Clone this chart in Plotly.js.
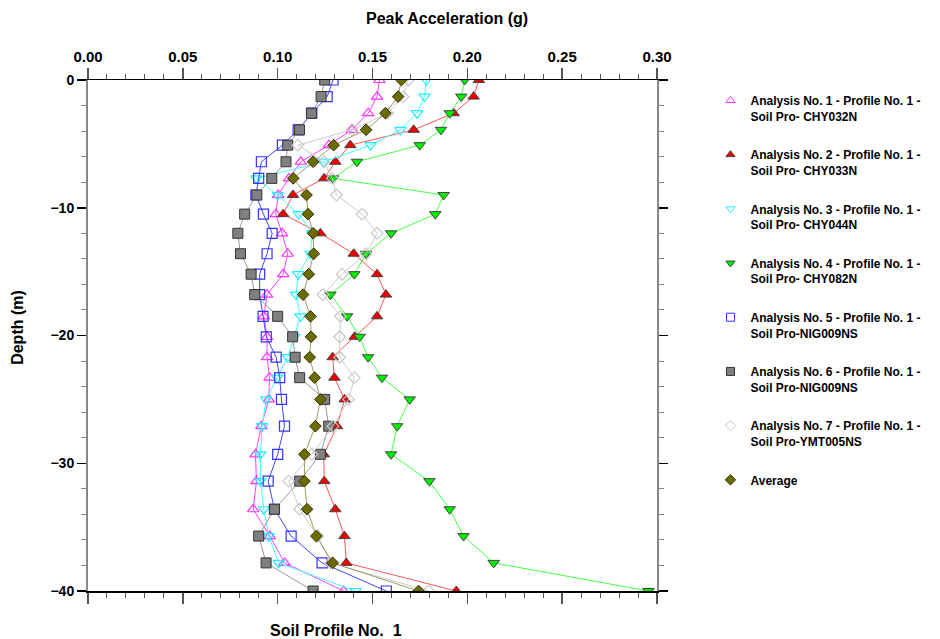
<!DOCTYPE html>
<html>
<head>
<meta charset="utf-8">
<script src="https://cdn.plot.ly/plotly-3.0.1.min.js"></script>
<style>html,body{margin:0;padding:0;background:#fff;}#chart{width:940px;height:639px;}</style>
</head>
<body>
<div id="chart"></div>
<script>
// Depth of each output point (m)
const depth = [0, -1.3, -2.6, -3.9, -5.1, -6.4, -7.7, -9.0, -10.5, -12.0, -13.6, -15.2, -16.8, -18.5, -20.1, -21.7, -23.3, -25.0, -27.1, -29.3, -31.4, -33.6, -35.7, -37.8, -40];

// Peak acceleration (g) per analysis
const a1 = [0.1536, 0.1524, 0.1477, 0.1392, 0.127, 0.1122, 0.106, 0.1002, 0.099, 0.1023, 0.1053, 0.1029, 0.0944, 0.0927, 0.0944, 0.0944, 0.0957, 0.0953, 0.0914, 0.0883, 0.0888, 0.0871, 0.0958, 0.1037, 0.1348];
const a2 = [0.2061, 0.2033, 0.1928, 0.1717, 0.1383, 0.1304, 0.1245, 0.1081, 0.1029, 0.1225, 0.1401, 0.1524, 0.1571, 0.1524, 0.1406, 0.1290, 0.1299, 0.1353, 0.1313, 0.1243, 0.1246, 0.1304, 0.1352, 0.1362, 0.1942];
const a3 = [0.1784, 0.1775, 0.1735, 0.1647, 0.1490, 0.1243, 0.0888, 0.1000, 0.1111, 0.1182, 0.1173, 0.1108, 0.1097, 0.1120, 0.1087, 0.1053, 0.0997, 0.0939, 0.0918, 0.0909, 0.0909, 0.0927, 0.0953, 0.1006, 0.1410];
const a4 = [0.1986, 0.1968, 0.1907, 0.1861, 0.1749, 0.1418, 0.1292, 0.1875, 0.1831, 0.1598, 0.1466, 0.1404, 0.1278, 0.1366, 0.1432, 0.1477, 0.1550, 0.1696, 0.1630, 0.1598, 0.1800, 0.1907, 0.1980, 0.2139, 0.2955];
const a5 = [0.1292, 0.1261, 0.1180, 0.1108, 0.1025, 0.0914, 0.0900, 0.0885, 0.0925, 0.0971, 0.0944, 0.0905, 0.0905, 0.0923, 0.0940, 0.0992, 0.1011, 0.1020, 0.1036, 0.1000, 0.0950, 0.0983, 0.1071, 0.1234, 0.1573];
const a6 = [0.1248, 0.1229, 0.1178, 0.1115, 0.1053, 0.1044, 0.0969, 0.0890, 0.0826, 0.0790, 0.0804, 0.0860, 0.0879, 0.1000, 0.1079, 0.1092, 0.1116, 0.1248, 0.1269, 0.1225, 0.1116, 0.0983, 0.0900, 0.0939, 0.1187];
const a7 = [0.1689, 0.1661, 0.1580, 0.1392, 0.1106, 0.1243, 0.1288, 0.1310, 0.1445, 0.1524, 0.1466, 0.1340, 0.1239, 0.1331, 0.1327, 0.1327, 0.1404, 0.1374, 0.1292, 0.1180, 0.1058, 0.1116, 0.1211, 0.1278, 0.1796];
const avg = [0.1652, 0.1635, 0.1568, 0.1466, 0.1295, 0.1187, 0.1082, 0.1152, 0.1160, 0.1187, 0.1190, 0.1164, 0.1134, 0.1173, 0.1176, 0.1169, 0.1195, 0.1225, 0.1199, 0.1141, 0.1141, 0.1155, 0.1204, 0.1290, 0.1743];

const names = [
  "Analysis No. 1 - Profile No. 1 -<br>Soil Pro- CHY032N",
  "Analysis No. 2 - Profile No. 1 -<br>Soil Pro- CHY033N",
  "Analysis No. 3 - Profile No. 1 -<br>Soil Pro- CHY044N",
  "Analysis No. 4 - Profile No. 1 -<br>Soil Pro- CHY082N",
  "Analysis No. 5 - Profile No. 1 -<br>Soil Pro-NIG009NS",
  "Analysis No. 6 - Profile No. 1 -<br>Soil Pro-NIG009NS",
  "Analysis No. 7 - Profile No. 1 -<br>Soil Pro-YMT005NS",
  "Average"
];
const seriesX = [a1, a2, a3, a4, a5, a6, a7, avg];

const styles = [
  {line: '#ff44ff', symbol: 'triangle-up-open', mcolor: '#ff33ff', mline: '#ff33ff', size: 10},
  {line: '#ff5555', symbol: 'triangle-up', mcolor: '#ee0000', mline: '#444444', size: 10},
  {line: '#44ffff', symbol: 'triangle-down-open', mcolor: '#22eeff', mline: '#22eeff', size: 10},
  {line: '#44ff44', symbol: 'triangle-down', mcolor: '#00ee00', mline: '#444444', size: 10},
  {line: '#4444ff', symbol: 'square-open', mcolor: '#3333ff', mline: '#3333ff', size: 10},
  {line: '#999999', symbol: 'square', mcolor: '#808080', mline: '#333333', size: 10},
  {line: '#cccccc', symbol: 'diamond-open', mcolor: '#c8c8c8', mline: '#c8c8c8', size: 9},
  {line: '#a09a60', symbol: 'diamond', mcolor: '#6b6b00', mline: '#333300', size: 9}
];

const traces = [];
seriesX.forEach((xs, i) => {
  const s = styles[i];
  traces.push({
    type: 'scatter', mode: 'lines+markers', x: xs, y: depth, showlegend: false,
    line: {color: s.line, width: 1},
    marker: {symbol: s.symbol, size: s.size, color: s.mcolor, line: {color: s.mline, width: s.symbol.endsWith('open') ? 1.2 : 1}},
    hoverinfo: 'skip'
  });
});
// legend entries (marker only)
seriesX.forEach((xs, i) => {
  const s = styles[i];
  traces.push({
    type: 'scatter', mode: 'markers', x: [null], y: [null], name: names[i],
    xaxis: 'x2', yaxis: 'y2', legendgroup: 'g' + i,
    marker: {symbol: s.symbol, size: 8, color: s.mcolor, line: {color: s.mline, width: 1}}
  });
});

const font = {family: 'Liberation Sans, Arial, sans-serif', color: '#000', size: 14, weight: 'bold'};

const layout = {
  width: 940, height: 639,
  margin: {l: 88, r: 283, t: 80, b: 48, pad: 0},
  paper_bgcolor: '#fff', plot_bgcolor: '#fff',
  font: font,
  showlegend: true,
  xaxis: {
    side: 'top', range: [0, 0.3], dtick: 0.05, tick0: 0, tickformat: '.2f',
    ticks: 'outside', ticklen: 11, tickwidth: 1.5, tickcolor: '#555',
    minor: {dtick: 0.01, ticks: 'outside', ticklen: 5, tickwidth: 1, tickcolor: '#555'},
    showline: true, linecolor: '#000', linewidth: 1.5, mirror: 'ticks',
    showgrid: false, zeroline: false, fixedrange: true,
    tickfont: {family: font.family, size: 15, color: '#000', weight: 'bold'}
  },
  yaxis: {
    range: [-40, 0], dtick: 10, tick0: 0,
    ticks: 'outside', ticklen: 9, tickwidth: 1.5, tickcolor: '#000',
    minor: {dtick: 2, ticks: 'outside', ticklen: 5, tickwidth: 1, tickcolor: '#888'},
    showline: true, linecolor: '#888', linewidth: 2, mirror: 'ticks',
    showgrid: false, zeroline: false, fixedrange: true,
    tickfont: {family: font.family, size: 14, color: '#000', weight: 'bold'}
  },
  xaxis2: {overlaying: 'x', range: [0, 0.3], visible: false, fixedrange: true},
  yaxis2: {overlaying: 'y', range: [-40, 0], visible: false, fixedrange: true},
  legend: {
    x: 1.094, xanchor: 'left', y: 0.988, yanchor: 'top',
    valign: 'top', tracegroupgap: 20, bgcolor: 'rgba(0,0,0,0)',
    font: {family: font.family, size: 12, color: '#000', weight: 'bold'}
  },
  annotations: [
    {text: 'Peak Acceleration (g)', xref: 'paper', yref: 'paper', x: 0.631, y: 1.121, showarrow: false,
     xanchor: 'center', yanchor: 'middle', font: {family: font.family, size: 16, color: '#000', weight: 'bold'}},
    {text: 'Depth (m)', xref: 'paper', yref: 'paper', x: -0.123, y: 0.515, showarrow: false, textangle: -90,
     xanchor: 'center', yanchor: 'middle', font: {family: font.family, size: 16, color: '#000', weight: 'bold'}},
    {text: 'Soil Profile No.  1', xref: 'paper', yref: 'paper', x: 0.436, y: -0.078, showarrow: false,
     xanchor: 'center', yanchor: 'middle', font: {family: font.family, size: 16, color: '#000', weight: 'bold'}}
  ]
};

Plotly.newPlot('chart', traces, layout, {staticPlot: true, displayModeBar: false});
</script>
</body>
</html>
